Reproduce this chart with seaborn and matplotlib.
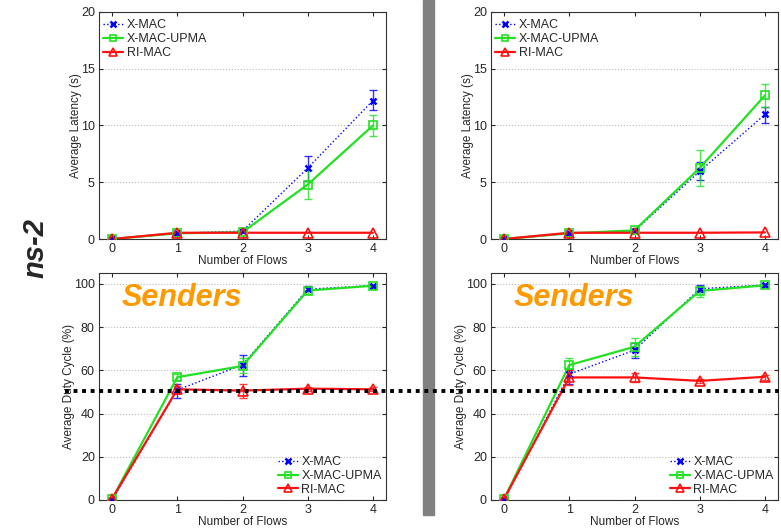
import numpy as np
import pandas as pd
import seaborn as sns
import matplotlib
matplotlib.use("Agg")
import matplotlib.pyplot as plt
from matplotlib.lines import Line2D
from matplotlib.patches import Rectangle

sns.set_style("white")
plt.rcParams['font.family'] = ['Liberation Sans', 'DejaVu Sans']

flows = [0, 1, 2, 3, 4]
series_names = ["X-MAC", "X-MAC-UPMA", "RI-MAC"]

# Latency (s) – left / right panels
lat_left_xmac = [0.0, 0.5, 0.7, 6.25, 12.2]
lat_left_xmac_lo = [0.0, 0.45, 0.6, 5.1, 11.35]
lat_left_xmac_hi = [0.1, 0.55, 0.8, 7.35, 13.1]
lat_left_upma = [0.0, 0.5, 0.6, 4.8, 10.0]
lat_left_upma_lo = [0.0, 0.45, 0.5, 3.5, 9.05]
lat_left_upma_hi = [0.1, 0.55, 0.7, 6.1, 10.95]
lat_left_rimac = [0.0, 0.55, 0.55, 0.55, 0.55]

lat_right_xmac = [0.0, 0.5, 0.7, 5.97, 10.97]
lat_right_xmac_lo = [0.0, 0.45, 0.6, 5.18, 10.24]
lat_right_xmac_hi = [0.1, 0.55, 0.8, 6.8, 11.6]
lat_right_upma = [0.0, 0.5, 0.76, 6.26, 12.65]
lat_right_upma_lo = [0.0, 0.45, 0.66, 4.65, 11.65]
lat_right_upma_hi = [0.1, 0.55, 0.86, 7.88, 13.68]
lat_right_rimac = [0.0, 0.55, 0.55, 0.55, 0.58]

# Duty cycle (%) – left / right panels
dc_left_xmac = [0.0, 50.9, 62.5, 97.5, 99.2]
dc_left_xmac_lo = [0.0, 47.4, 57.4, 96.5, 98.8]
dc_left_xmac_hi = [0.8, 53.7, 67.1, 99.2, 99.6]
dc_left_upma = [0.5, 56.8, 62.0, 96.9, 99.1]
dc_left_upma_lo = [0.0, 55.4, 58.6, 95.4, 98.7]
dc_left_upma_hi = [1.0, 58.2, 65.6, 98.5, 99.5]
dc_left_rimac = [0.5, 51.2, 50.6, 51.5, 51.2]
dc_left_rimac_lo = [0.0, 49.7, 47.4, 50.6, 50.2]
dc_left_rimac_hi = [1.0, 52.9, 53.7, 52.5, 52.2]

dc_right_xmac = [0.0, 58.2, 69.3, 97.7, 99.5]
dc_right_xmac_lo = [0.0, 53.6, 65.9, 96.0, 99.1]
dc_right_xmac_hi = [0.8, 60.5, 72.4, 99.5, 99.8]
dc_right_upma = [0.5, 62.4, 70.9, 96.7, 99.3]
dc_right_upma_lo = [0.0, 60.1, 66.6, 94.1, 98.9]
dc_right_upma_hi = [1.0, 65.5, 74.8, 98.5, 99.7]
dc_right_rimac = [0.5, 56.7, 56.7, 55.1, 57.0]
dc_right_rimac_lo = [0.0, 53.1, 54.5, 54.2, 55.7]
dc_right_rimac_hi = [1.5, 60.0, 58.8, 55.9, 58.0]

THRESHOLD = 50.5

BLUE = "#0000ff"
GREEN = "#22e022"
RED = "#ff1010"
ORANGE = "#ff9900"

W, H = 781, 528
fig = plt.figure(figsize=(W / 100, H / 100), dpi=100)


def ax_at(l, r, t, b):
    return fig.add_axes([l / W, 1 - b / H, (r - l) / W, (b - t) / H])


ax_tl = ax_at(99, 386, 12, 239)
ax_tr = ax_at(491, 778, 12, 239)
ax_bl = ax_at(99, 386, 273, 500)
ax_br = ax_at(491, 778, 273, 500)

styles = {
    "X-MAC": dict(color=BLUE, ls=":", lw=1.0, marker="x", ms=5, mew=1.8, mfc=BLUE),
    "X-MAC-UPMA": dict(color=GREEN, ls="-", lw=1.6, marker="s", ms=6, mew=1.2, mfc="none"),
    "RI-MAC": dict(color=RED, ls="-", lw=1.6, marker="^", ms=7, mew=1.2, mfc="none"),
}


def draw(ax, data, errs, ylim, yticks, ylabel, legend_loc, anchor):
    handles = []
    for name in series_names:
        st = styles[name]
        y = data[name]
        df = pd.DataFrame({"x": flows, "y": y})
        sns.lineplot(data=df, x="x", y="y", ax=ax, color=st["color"], linestyle=st["ls"],
                     lw=st["lw"], marker=None, legend=False, zorder=3)
        if name in errs:
            lo, hi = errs[name]
            yerr = np.array([np.array(y) - np.array(lo), np.array(hi) - np.array(y)])
            yerr = np.clip(yerr, 0, None)
            ax.errorbar(flows, y, yerr=yerr, fmt="none", ecolor=st["color"], elinewidth=1.0,
                        capsize=3, capthick=1.0, alpha=0.8, zorder=2)
        ax.plot(flows, y, linestyle="none", marker=st["marker"], ms=st["ms"], mew=st["mew"],
                mec=st["color"], mfc=st["mfc"], zorder=4)
        handles.append(Line2D([], [], color=st["color"], ls=st["ls"], lw=st["lw"],
                              marker=st["marker"], ms=st["ms"] - 1, mew=st["mew"],
                              mec=st["color"], mfc=st["mfc"], label=name))
    ax.set_xlim(-0.2, 4.2)
    ax.set_ylim(*ylim)
    ax.set_xticks(flows)
    ax.set_yticks(yticks)
    ax.set_xlabel("Number of Flows", fontsize=8.5, labelpad=0)
    ax.set_ylabel(ylabel, fontsize=8.5, labelpad=-1)
    ax.tick_params(direction="in", length=3, labelsize=9, top=True, right=True,
                   bottom=True, left=True, pad=3)
    ax.yaxis.grid(True, linestyle=":", color="#bbbbbb", lw=0.8)
    ax.xaxis.grid(False)
    for s in ax.spines.values():
        s.set_color("#333333")
        s.set_linewidth(0.8)
    ax.set_axisbelow(True)
    ax.legend(handles=handles, loc=legend_loc, bbox_to_anchor=anchor, frameon=False,
              fontsize=9, handlelength=1.6, handletextpad=0.3, labelspacing=0.14,
              borderaxespad=0.15, borderpad=0.2)
    return ax


TOP_ANCHOR = (0.0, 1 - 3 / 227)
BOT_ANCHOR = (1.0, 0.0)

draw(ax_tl, {"X-MAC": lat_left_xmac, "X-MAC-UPMA": lat_left_upma, "RI-MAC": lat_left_rimac},
     {"X-MAC": (lat_left_xmac_lo, lat_left_xmac_hi), "X-MAC-UPMA": (lat_left_upma_lo, lat_left_upma_hi)},
     (0, 20), [0, 5, 10, 15, 20], "Average Latency (s)", "upper left", TOP_ANCHOR)
draw(ax_tr, {"X-MAC": lat_right_xmac, "X-MAC-UPMA": lat_right_upma, "RI-MAC": lat_right_rimac},
     {"X-MAC": (lat_right_xmac_lo, lat_right_xmac_hi), "X-MAC-UPMA": (lat_right_upma_lo, lat_right_upma_hi)},
     (0, 20), [0, 5, 10, 15, 20], "Average Latency (s)", "upper left", TOP_ANCHOR)
draw(ax_bl, {"X-MAC": dc_left_xmac, "X-MAC-UPMA": dc_left_upma, "RI-MAC": dc_left_rimac},
     {"X-MAC": (dc_left_xmac_lo, dc_left_xmac_hi), "X-MAC-UPMA": (dc_left_upma_lo, dc_left_upma_hi),
      "RI-MAC": (dc_left_rimac_lo, dc_left_rimac_hi)},
     (0, 105), [0, 20, 40, 60, 80, 100], "Average Duty Cycle (%)", "lower right", BOT_ANCHOR)
draw(ax_br, {"X-MAC": dc_right_xmac, "X-MAC-UPMA": dc_right_upma, "RI-MAC": dc_right_rimac},
     {"X-MAC": (dc_right_xmac_lo, dc_right_xmac_hi), "X-MAC-UPMA": (dc_right_upma_lo, dc_right_upma_hi),
      "RI-MAC": (dc_right_rimac_lo, dc_right_rimac_hi)},
     (0, 105), [0, 20, 40, 60, 80, 100], "Average Duty Cycle (%)", "lower right", BOT_ANCHOR)

for ax in (ax_bl, ax_br):
    ax.text(0.08, 0.955, "Senders", transform=ax.transAxes, ha="left", va="top",
            fontsize=22, fontweight="bold", fontstyle="italic", color=ORANGE, zorder=6)

# separator bar
fig.patches.append(Rectangle((423 / W, 1 - 515 / H), 11 / W, 515 / H, transform=fig.transFigure,
                             color="#808080", zorder=0))

# threshold dotted line across both bottom panels
yfig = fig.transFigure.inverted().transform(ax_bl.transData.transform((0, THRESHOLD)))[1]
fig.add_artist(Line2D([65 / W, 780 / W], [yfig, yfig], transform=fig.transFigure,
                      color="black", lw=2.8, ls=(0, (1, 1.2)), zorder=10))

fig.text(35 / W, 1 - 248 / H, "ns-2", rotation=90, ha="center", va="center",
         fontsize=21, fontweight="bold", fontstyle="italic")

fig.savefig("out.png", dpi=100)
